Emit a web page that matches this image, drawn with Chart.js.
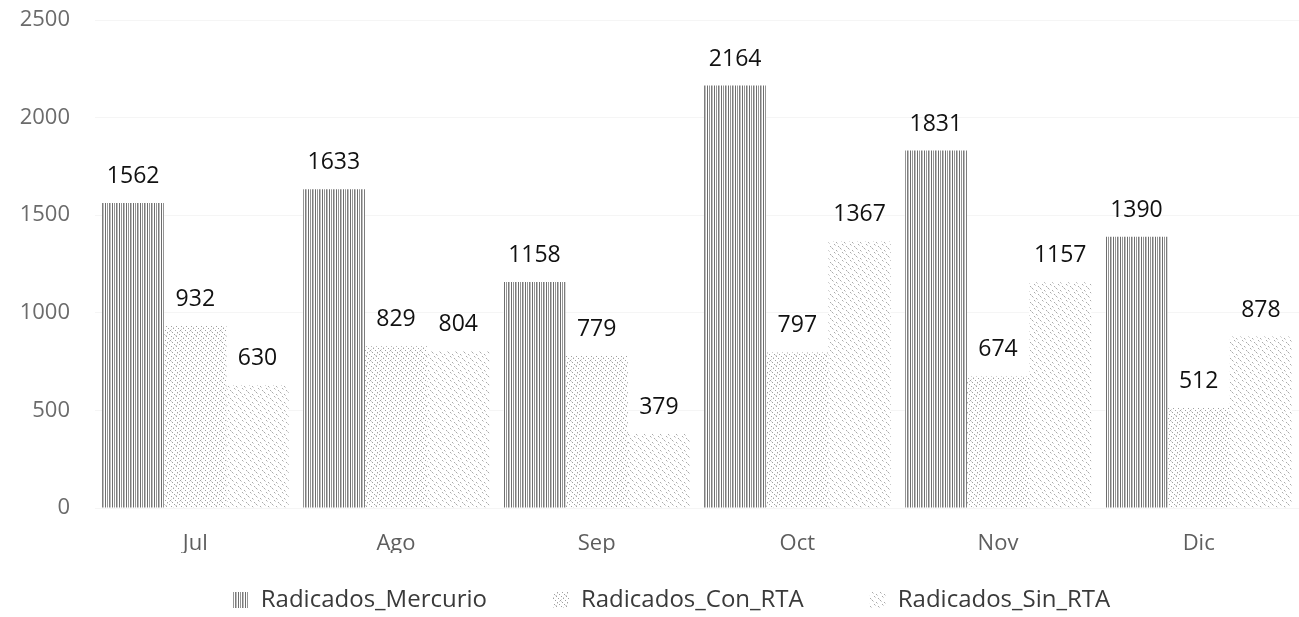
<!DOCTYPE html>
<html>
<head>
<meta charset="utf-8">
<script src="https://cdn.jsdelivr.net/npm/chart.js@4"></script>
<style>
  html, body { margin: 0; padding: 0; background: #fff; }
  #wrap { width: 1299px; height: 617px; }
</style>
</head>
<body>
<div id="wrap"><canvas id="chart" width="1299" height="617"></canvas></div>
<script>
const months = ['Jul', 'Ago', 'Sep', 'Oct', 'Nov', 'Dic'];
const mercurio = [1562, 1633, 1158, 2164, 1831, 1390];
const conRta = [932, 829, 779, 797, 674, 512];
const sinRta = [630, 804, 379, 1367, 1157, 878];
const yTicks = [0, 500, 1000, 1500, 2000, 2500];

// little tiles to imitate the scanned hatch fills
function makePattern(kind) {
    const c = document.createElement('canvas');
    const g = c.getContext('2d');
    if (kind === 'stripes') {
        c.width = 7; c.height = 4;
        g.fillStyle = '#ffffff';
        g.fillRect(0, 0, 7, 4);
        g.fillStyle = '#6e6e6e'; g.fillRect(0, 0, 1, 4);
        g.fillStyle = '#959595'; g.fillRect(2, 0, 1, 4);
        g.fillStyle = '#7c7c7c'; g.fillRect(4, 0, 1, 4);
        g.fillStyle = '#bdbdbd'; g.fillRect(5, 0, 1, 4);
    } else if (kind === 'diag') {
        c.width = 10; c.height = 10;
        g.fillStyle = '#ffffff';
        g.fillRect(0, 0, 10, 10);
        g.fillStyle = '#a0a0a0';
        [[0,0],[2,2],[4,4],[6,6],[8,8],[5,0],[7,2],[9,4],[1,6],[3,8]].forEach(p => g.fillRect(p[0], p[1], 1, 1));
        g.fillStyle = '#d6d6d6';
        [[1,9],[3,7],[5,5],[7,3],[9,1],[1,1],[6,5]].forEach(p => g.fillRect(p[0], p[1], 1, 1));
    } else {
        c.width = 8; c.height = 8;
        g.fillStyle = '#ffffff';
        g.fillRect(0, 0, 8, 8);
        g.fillStyle = '#aaaaaa';
        [[0,0],[4,2],[2,4],[6,6]].forEach(p => g.fillRect(p[0], p[1], 1, 1));
        g.fillStyle = '#d8d8d8';
        [[1,1],[5,3],[3,5],[7,7]].forEach(p => g.fillRect(p[0], p[1], 1, 1));
    }
    return g.createPattern(c, 'repeat');
}

const valueLabels = {
    id: 'valueLabels',
    afterDatasetsDraw(chart) {
        const ctx = chart.ctx;
        ctx.save();
        ctx.font = '23px "Open Sans", sans-serif';
        ctx.fillStyle = '#111111';
        ctx.textAlign = 'center';
        ctx.textBaseline = 'alphabetic';
        chart.data.datasets.forEach((ds, i) => {
            chart.getDatasetMeta(i).data.forEach((bar, j) => {
                ctx.fillText(ds.data[j], bar.x, bar.y - 20);
            });
        });
        ctx.restore();
    }
};

// legend sits lower and a bit right of where Chart.js centres it
const legendPlacer = {
    id: 'legendPlacer',
    afterLayout(chart) {
        const lg = chart.legend;
        lg.top = 602 - 66 - 14;
        lg.left += 22;
        lg.right += 22;
    }
};

new Chart(document.getElementById('chart'), {
    type: 'bar',
    data: {
        labels: months,
        datasets: [
            { label: 'Radicados_Mercurio', data: mercurio, backgroundColor: makePattern('stripes') },
            { label: 'Radicados_Con_RTA', data: conRta, backgroundColor: makePattern('diag') },
            { label: 'Radicados_Sin_RTA', data: sinRta, backgroundColor: makePattern('dots') }
        ]
    },
    options: {
        responsive: false,
        animation: false,
        layout: { padding: 0 },
        datasets: { bar: { categoryPercentage: 0.93, barPercentage: 1.0 } },
        scales: {
            x: {
                afterFit: scale => { scale.height = 45; },
                grid: { display: false },
                border: { display: false },
                ticks: { color: '#5e5e5e', font: { family: 'Open Sans', size: 22 }, padding: 15 }
            },
            y: {
                min: 0,
                max: 2500,
                afterBuildTicks: scale => { scale.ticks = yTicks.map(v => ({ value: v })); },
                afterFit: scale => {
                    scale.width = 95;
                    scale.paddingTop = 20;
                    scale.paddingBottom = 12;
                },
                grid: { color: '#f5f5f5', drawTicks: false },
                border: { display: false },
                ticks: {
                    color: '#6b6b6b',
                    font: { family: 'Open Sans', size: 22 },
                    padding: 25,
                    callback: v => String(v)
                }
            }
        },
        plugins: {
            legend: {
                position: 'bottom',
                maxHeight: 64,
                labels: {
                    color: '#3a3a3a',
                    font: { family: 'Open Sans', size: 24 },
                    boxWidth: 16,
                    boxHeight: 16,
                    padding: 66
                }
            },
            tooltip: { enabled: false }
        }
    },
    plugins: [valueLabels, legendPlacer]
});
</script>
</body>
</html>
